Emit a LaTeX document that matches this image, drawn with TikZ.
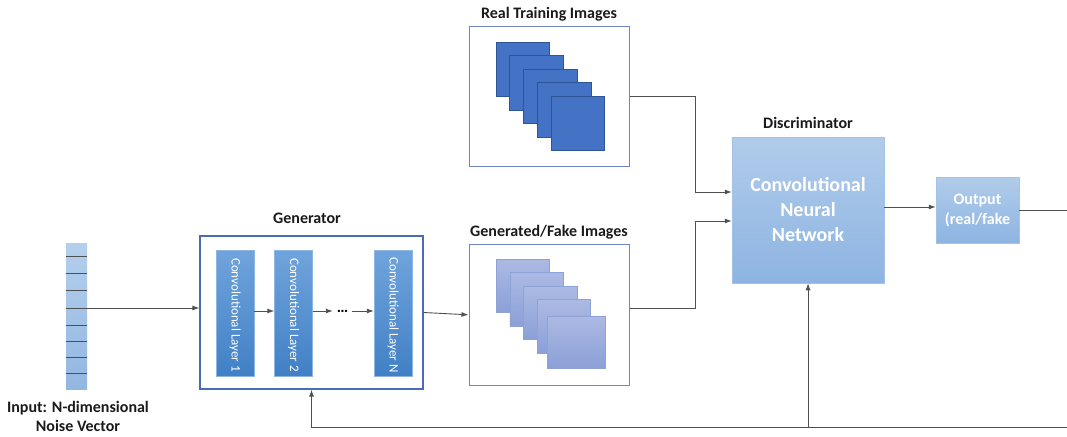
\documentclass[tikz,border=0pt]{standalone}
\usepackage{fontspec}
\setmainfont{Carlito}
\usetikzlibrary{arrows.meta,calc}

\definecolor{lineGray}{HTML}{505050}
\definecolor{genEdge}{HTML}{4A6CB3}
\definecolor{imgEdge}{HTML}{6F86C0}
\definecolor{layerTop}{HTML}{70A4DC}
\definecolor{layerBot}{HTML}{4180C6}
\definecolor{noiseTop}{HTML}{B4CFEC}
\definecolor{noiseBot}{HTML}{92B7E1}
\definecolor{discTop}{HTML}{B1CCEA}
\definecolor{discBot}{HTML}{8DB4E2}
\definecolor{discEdge}{HTML}{A3C2E6}
\definecolor{realFill}{HTML}{4472C4}
\definecolor{realEdge}{HTML}{2F5597}
\definecolor{fakeTop}{HTML}{ACB9E3}
\definecolor{fakeBot}{HTML}{8BA0D7}
\definecolor{fakeEdge}{HTML}{8EA2D8}
\definecolor{titleInk}{HTML}{1A1A1A}

\tikzset{
  conn/.style={draw=lineGray, line width=0.9pt, -{Latex[length=7pt,width=5pt]}},
  plainconn/.style={draw=lineGray, line width=0.9pt},
  title/.style={font=\fontsize{16}{19}\selectfont\bfseries, text=titleInk, inner sep=0pt},
  frame/.style={draw=imgEdge, line width=1pt, fill=white, inner sep=0pt},
  layer/.style={top color=layerTop, bottom color=layerBot, draw=layerTop!80!white,
    line width=0.4pt, minimum width=38pt, minimum height=126pt, inner sep=0pt},
  layertext/.style={rotate=-90, text=white, font=\fontsize{13}{15}\selectfont},
  discbox/.style={top color=discTop, bottom color=discBot, draw=discEdge, line width=0.5pt,
    inner sep=0pt, text=white, align=center},
  realsq/.style={fill=realFill, draw=realEdge, line width=0.8pt},
  fakesq/.style={top color=fakeTop, bottom color=fakeBot, draw=fakeEdge, line width=0.6pt},
}

\begin{document}
\begin{tikzpicture}[x=1pt,y=-1pt]
\useasboundingbox (0,0) rectangle (1067,436);

% noise vector
\node[top color=noiseTop, bottom color=noiseBot, minimum width=21pt, minimum height=146pt,
  inner sep=0pt] (noise) at (76.5,316) {};
\foreach \yy in {256.5,273.5,290.5,308,325,341,357,373}
  \draw[lineGray, line width=0.6pt] (66,\yy) -- (87,\yy);
\node[title, align=center] (noiselbl) at (78,416.5)
  {Input: N-dimensional\\Noise Vector};

% generator
\node[draw=genEdge, line width=1.2pt, minimum width=223pt, minimum height=153pt, inner sep=0pt]
  (gen) at (311.5,312.5) {};
\node[title] (gentitle) at (307,218.5) {Generator};
\node[layer] (L1) at (235,313) {};
\node[layertext] (L1t) at ($(L1)+(0,2)$) {Convolutional Layer 1};
\node[layer] (L2) at (293.5,313) {};
\node[layertext] (L2t) at ($(L2)+(0,2)$) {Convolutional Layer 2};
\node[layer] (LN) at (393,313) {};
\node[layertext] (LNt) at ($(LN)+(0,2)$) {Convolutional Layer N};
\node[minimum width=19pt, inner sep=0pt, font=\fontsize{16}{16}\selectfont\bfseries] (dots)
  at (342.5,311) {…};

% real images
\node[frame, minimum width=160pt, minimum height=139.5pt] (real) at (549,96.7) {};
\node[title] (realtitle) at (549,14.5) {Real Training Images};
\foreach \i in {0,...,4}
  \draw[realsq] ({496+13.8*\i},{42+13.5*\i}) rectangle ++(53.5,54.5);

% generated images
\node[frame, minimum width=160pt, minimum height=140.5pt] (fake) at (549,314.8) {};
\node[title] (faketitle) at (549,232) {Generated/Fake Images};
\foreach \i in {0,...,3}
  \draw[fakesq] ({496+13.8*\i},{259.3+13.4*\i}) rectangle ++(53.3,53.4);
\draw[fakesq] (547.3,316) rectangle (605,368.3);

% discriminator
\node[discbox, minimum width=152pt, minimum height=146pt,
  font=\fontsize{20}{25}\selectfont\bfseries] (disc) at (808,210)
  {Convolutional\\Neural\\Network};
\node[title] (disctitle) at (808,123) {Discriminator};

% output
\node[discbox, minimum width=83pt, minimum height=66pt,
  font=\fontsize{16}{20}\selectfont\bfseries] (out) at (977.5,210) {Output\\(real/fake};

% free ends at the right border
\coordinate (edgeR) at (1067,210);
\coordinate (edgeB) at (1067,427.5);

% connectors
\draw[conn] ($(noise.east)+(0,-8)$) -- ($(gen.west)+(0,-4.5)$);
\draw[conn] (L1.east |- 0,311) -- (L2.west |- 0,311);
\draw[conn] (L2.east |- dots) -- (dots.west);
\draw[conn] (dots.east) -- (LN.west |- dots);
\draw[conn] (gen.east) -- (fake.west);
\draw[conn] (real.east) -- ++(66,0) |- ($(disc.west)+(0,-18)$);
\draw[conn] ($(fake.east)+(0,-6)$) -- ++(66,0) |- ($(disc.west)+(0,11)$);
\draw[conn] ($(disc.east)+(0,-3)$) -- ($(out.west)+(0,-3)$);
\draw[plainconn] (out.east) -- (edgeR);
\draw[conn] (edgeB) -| (gen.south);
\draw[conn] (disc.south |- edgeB) -- (disc.south);
\end{tikzpicture}
\end{document}
